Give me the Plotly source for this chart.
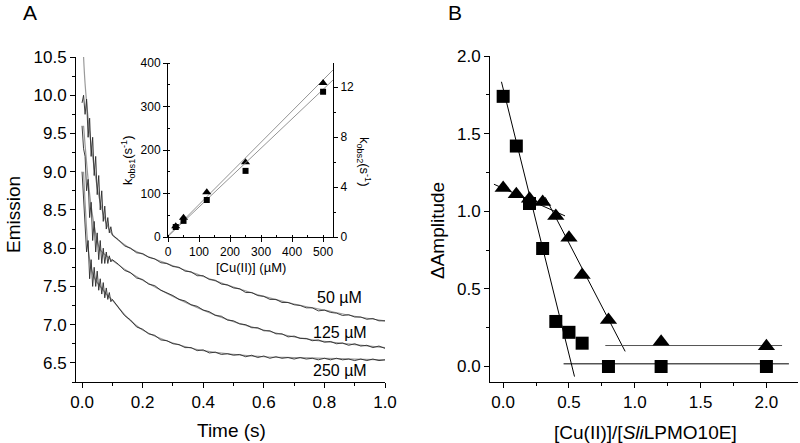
import plotly.graph_objects as go

W, H = 800, 443
FONT = "Liberation Sans, Arial, sans-serif"

# ---------------- Panel A: stopped-flow emission traces ----------------
t_data = [0.000, 0.005, 0.010, 0.015, 0.020, 0.025, 0.030, 0.035, 0.040, 0.045, 0.050,
          0.055, 0.060, 0.065, 0.070, 0.075, 0.080, 0.085, 0.090, 0.095, 0.100,
          0.12, 0.14, 0.16, 0.18, 0.20, 0.22, 0.24, 0.26, 0.28, 0.30, 0.32, 0.34, 0.36, 0.38,
          0.40, 0.42, 0.44, 0.46, 0.48, 0.50, 0.52, 0.54, 0.56, 0.58, 0.60, 0.62, 0.64, 0.66,
          0.68, 0.70, 0.72, 0.74, 0.76, 0.78, 0.80, 0.82, 0.84, 0.86, 0.88, 0.90, 0.92, 0.94,
          0.96, 0.98, 1.00]

emis_50 = [9.9, 10.0, 9.75, 9.95, 9.45, 9.7, 9.2, 9.45, 8.95, 9.2, 8.7,
           8.95, 8.5, 8.75, 8.35, 8.55, 8.25, 8.4, 8.2, 8.28, 8.17,
           8.11, 8.03, 8.00, 7.94, 7.93, 7.88, 7.86, 7.81, 7.80, 7.76, 7.75, 7.70, 7.69, 7.64,
           7.64, 7.59, 7.58, 7.53, 7.52, 7.48, 7.47, 7.42, 7.42, 7.38, 7.37, 7.33, 7.33, 7.29,
           7.29, 7.26, 7.25, 7.22, 7.22, 7.18, 7.19, 7.16, 7.15, 7.12, 7.13, 7.10, 7.10, 7.07,
           7.08, 7.05, 7.05]

emis_125 = [9.6, 9.3, 9.2, 8.75, 8.9, 8.4, 8.6, 8.1, 8.35, 7.95, 8.2,
            7.85, 8.1, 7.8, 8.0, 7.8, 7.95, 7.8, 7.9, 7.82, 7.85,
            7.79, 7.71, 7.68, 7.61, 7.59, 7.53, 7.51, 7.45, 7.42, 7.38, 7.33, 7.31, 7.26, 7.24,
            7.19, 7.17, 7.12, 7.11, 7.06, 7.05, 7.01, 7.00, 6.96, 6.96, 6.92, 6.92, 6.88, 6.88,
            6.84, 6.85, 6.82, 6.82, 6.79, 6.80, 6.77, 6.78, 6.75, 6.76, 6.73, 6.75, 6.72, 6.73,
            6.70, 6.72, 6.69]

emis_250 = [9.0, 8.7, 8.3, 7.95, 8.1, 7.6, 7.85, 7.5, 7.75, 7.5, 7.7,
            7.45, 7.6, 7.4, 7.55, 7.35, 7.48, 7.33, 7.42, 7.3, 7.33,
            7.23, 7.12, 7.06, 6.97, 6.94, 6.88, 6.86, 6.80, 6.79, 6.75, 6.74, 6.70, 6.70, 6.66,
            6.67, 6.63, 6.64, 6.61, 6.62, 6.60, 6.61, 6.58, 6.60, 6.57, 6.59, 6.56, 6.58, 6.56,
            6.57, 6.55, 6.57, 6.55, 6.56, 6.54, 6.56, 6.54, 6.56, 6.54, 6.55, 6.53, 6.55, 6.53,
            6.55, 6.53, 6.54]

t_fit = [0.005, 0.01, 0.02, 0.03, 0.04, 0.05, 0.06, 0.08, 0.1, 0.15, 0.2, 0.3, 0.4, 0.5,
         0.6, 0.7, 0.8, 0.9, 1.0]
fit_50 = [10.5, 10.15, 9.7, 9.35, 9.05, 8.8, 8.6, 8.33, 8.18, 8.02, 7.92, 7.77, 7.63, 7.49,
          7.37, 7.27, 7.19, 7.11, 7.05]
fit_125 = [9.6, 9.35, 8.9, 8.55, 8.3, 8.1, 7.98, 7.9, 7.84, 7.7, 7.58, 7.37, 7.19, 7.04,
           6.93, 6.84, 6.78, 6.74, 6.70]
fit_250 = [9.0, 8.6, 8.0, 7.75, 7.62, 7.55, 7.5, 7.4, 7.32, 7.09, 6.93, 6.76, 6.66, 6.61,
           6.58, 6.57, 6.56, 6.55, 6.54]

trace_labels = ["50 µM", "125 µM", "250 µM"]
label_x = [0.85, 0.85, 0.85]
label_y = [7.35, 6.90, 6.40]

# ---------------- Inset: kobs vs [Cu(II)] ----------------
cu_conc = [25, 50, 125, 250, 500]
kobs1 = [25, 44, 103, 172, 354]            # triangles, left axis (s^-1)
kobs2 = [0.80, 1.29, 2.96, 5.29, 11.62]    # squares, right axis (s^-1)
fit1_x = [0, 532]
fit1_y = [3, 384]
fit2_x = [0, 532]
fit2_y = [0.05, 12.56]

# ---------------- Panel B: amplitude vs ratio ----------------
ratio = [0.0, 0.1, 0.2, 0.3, 0.4, 0.5, 0.6, 0.8, 1.2, 2.0]
amp_sq = [1.74, 1.42, 1.05, 0.76, 0.29, 0.22, 0.15, 0.0, 0.0, 0.0]
amp_tri = [1.15, 1.11, 1.08, 1.06, 0.97, 0.83, 0.59, 0.30, 0.16, 0.13]
sq_steep_x = [-0.013, 0.542]
sq_steep_y = [1.834, -0.065]
sq_flat_x = [0.459, 2.171]
sq_flat_y = [0.017, 0.017]
tri_shallow_x = [-0.07, 0.47]
tri_shallow_y = [1.174, 0.97]
tri_steep_x = [0.32, 0.927]
tri_steep_y = [1.09, 0.097]
tri_flat_x = [0.776, 2.119]
tri_flat_y = [0.135, 0.135]


def px(x):
    return x / W


def py(y):
    return 1 - y / H


fig = go.Figure()

# Panel A
for ty in [fit_50, fit_125, fit_250]:
    fig.add_trace(go.Scatter(x=t_fit, y=ty, mode="lines", line=dict(color="#9a9a9a", width=1.2, shape="spline"),
                             xaxis="x", yaxis="y", showlegend=False, hoverinfo="skip"))
for ty in [emis_50, emis_125, emis_250]:
    fig.add_trace(go.Scatter(x=t_data, y=ty, mode="lines", line=dict(color="#2a2a2a", width=0.9),
                             xaxis="x", yaxis="y", showlegend=False))

# Inset
fig.add_trace(go.Scatter(x=fit1_x, y=fit1_y, mode="lines", line=dict(color="#888", width=0.9),
                         xaxis="x2", yaxis="y2", showlegend=False))
fig.add_trace(go.Scatter(x=cu_conc, y=kobs1, mode="markers",
                         marker=dict(symbol="triangle-up", size=8, color="black"),
                         xaxis="x2", yaxis="y2", showlegend=False))
fig.add_trace(go.Scatter(x=fit2_x, y=fit2_y, mode="lines", line=dict(color="#888", width=0.9),
                         xaxis="x2", yaxis="y3", showlegend=False))
fig.add_trace(go.Scatter(x=cu_conc, y=kobs2, mode="markers",
                         marker=dict(symbol="square", size=6, color="black"),
                         xaxis="x2", yaxis="y3", showlegend=False))

# Panel B
for lx, ly, col in [(sq_steep_x, sq_steep_y, "black"), (sq_flat_x, sq_flat_y, "black"),
                    (tri_shallow_x, tri_shallow_y, "black"), (tri_steep_x, tri_steep_y, "black"),
                    (tri_flat_x, tri_flat_y, "#555")]:
    fig.add_trace(go.Scatter(x=lx, y=ly, mode="lines", line=dict(color=col, width=1),
                             xaxis="x4", yaxis="y4", showlegend=False))
fig.add_trace(go.Scatter(x=ratio, y=amp_sq, mode="markers",
                         marker=dict(symbol="square", size=13, color="black"),
                         xaxis="x4", yaxis="y4", showlegend=False))
fig.add_trace(go.Scatter(x=ratio, y=amp_tri, mode="markers",
                         marker=dict(symbol="triangle-up", size=15, color="black"),
                         xaxis="x4", yaxis="y4", showlegend=False))

common = dict(showline=True, linecolor="black", linewidth=1, showgrid=False, zeroline=False,
              ticks="outside", tickcolor="black", tickwidth=1, color="black")

fig.update_layout(
    width=W, height=H, margin=dict(l=0, r=0, t=0, b=0, autoexpand=False),
    paper_bgcolor="white", plot_bgcolor="rgba(0,0,0,0)",
    font=dict(family=FONT, color="black"),
    xaxis=dict(**common, domain=[px(76), px(385)], range=[-0.02, 1.0], anchor="y",
               tick0=0, dtick=0.2, tickformat=".1f", ticklen=5, tickfont=dict(size=17),
               minor=dict(dtick=0.1, ticklen=3, ticks="outside", tickcolor="black")),
    yaxis=dict(**common, domain=[py(382), py(57)], range=[6.25, 10.5], anchor="x",
               tick0=6.5, dtick=0.5, tickformat=".1f", ticklen=5, tickfont=dict(size=17),
               minor=dict(tick0=6.5, dtick=0.25, ticklen=3, ticks="outside", tickcolor="black")),
    xaxis2=dict(**common, domain=[px(168), px(333)], range=[0, 532], anchor="y2",
                tick0=0, dtick=100, ticklen=4, tickfont=dict(size=12),
                minor=dict(dtick=50, ticklen=2, ticks="inside", tickcolor="black")),
    xaxis3=dict(showline=True, linecolor="black", linewidth=1, showgrid=False, zeroline=False,
                overlaying="x2", side="top", anchor="y2", range=[0, 532], tick0=0, dtick=50,
                ticks="inside", ticklen=3, tickcolor="black", showticklabels=False),
    yaxis2=dict(**common, domain=[py(237), py(63)], range=[0, 400], anchor="x2",
                tick0=0, dtick=100, ticklen=4, tickfont=dict(size=12),
                minor=dict(dtick=50, ticklen=2, ticks="inside", tickcolor="black")),
    yaxis3=dict(**common, overlaying="y2", side="right", anchor="x2", range=[0, 13.92],
                tick0=0, dtick=4, ticklen=4, tickfont=dict(size=12),
                minor=dict(dtick=2, ticklen=2, ticks="outside", tickcolor="black")),
    xaxis4=dict(**common, domain=[px(490), px(798)], range=[-0.1, 2.24], anchor="y4",
                tick0=0, dtick=0.5, tickformat=".1f", ticklen=5, tickfont=dict(size=17),
                minor=dict(tick0=0, dtick=0.25, ticklen=3, ticks="outside", tickcolor="black")),
    yaxis4=dict(**common, domain=[py(382), py(56)], range=[-0.1, 2.0], anchor="x4",
                tick0=0, dtick=0.5, tickformat=".1f", ticklen=5, tickfont=dict(size=17),
                minor=dict(tick0=0, dtick=0.25, ticklen=3, ticks="outside", tickcolor="black")),
)

ann = []
ann.append(dict(text="A", x=px(30), y=py(12), xref="paper", yref="paper", showarrow=False,
                font=dict(size=21), xanchor="center", yanchor="middle"))
ann.append(dict(text="B", x=px(455), y=py(12), xref="paper", yref="paper", showarrow=False,
                font=dict(size=21), xanchor="center", yanchor="middle"))
ann.append(dict(text="Emission", x=px(13), y=py(215), xref="paper", yref="paper", showarrow=False,
                font=dict(size=19), textangle=-90, xanchor="center", yanchor="middle"))
ann.append(dict(text="Time (s)", x=px(231), y=py(430), xref="paper", yref="paper", showarrow=False,
                font=dict(size=19), xanchor="center", yanchor="middle"))
ann.append(dict(text="ΔAmplitude", x=px(437), y=py(231), xref="paper", yref="paper", showarrow=False,
                font=dict(size=19), textangle=-90, xanchor="center", yanchor="middle"))
ann.append(dict(text="[Cu(II)]/[<i>Sli</i>LPMO10E]", x=px(645), y=py(432), xref="paper", yref="paper",
                showarrow=False, font=dict(size=19), xanchor="center", yanchor="middle"))
ann.append(dict(text="[Cu(II)] (µM)", x=px(251), y=py(267), xref="paper", yref="paper", showarrow=False,
                font=dict(size=13), xanchor="center", yanchor="middle"))
ann.append(dict(text="k<sub>obs1</sub>(s<sup>-1</sup>)", x=px(128), y=py(160), xref="paper", yref="paper",
                showarrow=False, font=dict(size=13), textangle=-90, xanchor="center", yanchor="middle"))
ann.append(dict(text="k<sub>obs2</sub>(s<sup>-1</sup>)", x=px(364), y=py(162), xref="paper", yref="paper",
                showarrow=False, font=dict(size=13), textangle=90, xanchor="center", yanchor="middle"))
for lab, lx, ly in zip(trace_labels, label_x, label_y):
    ann.append(dict(text=lab, x=lx, y=ly, xref="x", yref="y", showarrow=False,
                    font=dict(size=16), xanchor="center", yanchor="middle"))
fig.update_layout(annotations=ann)

fig.write_html("out.html", config={"displayModeBar": False},
               post_script="document.body.style.margin='0';document.body.style.overflow='hidden';")
